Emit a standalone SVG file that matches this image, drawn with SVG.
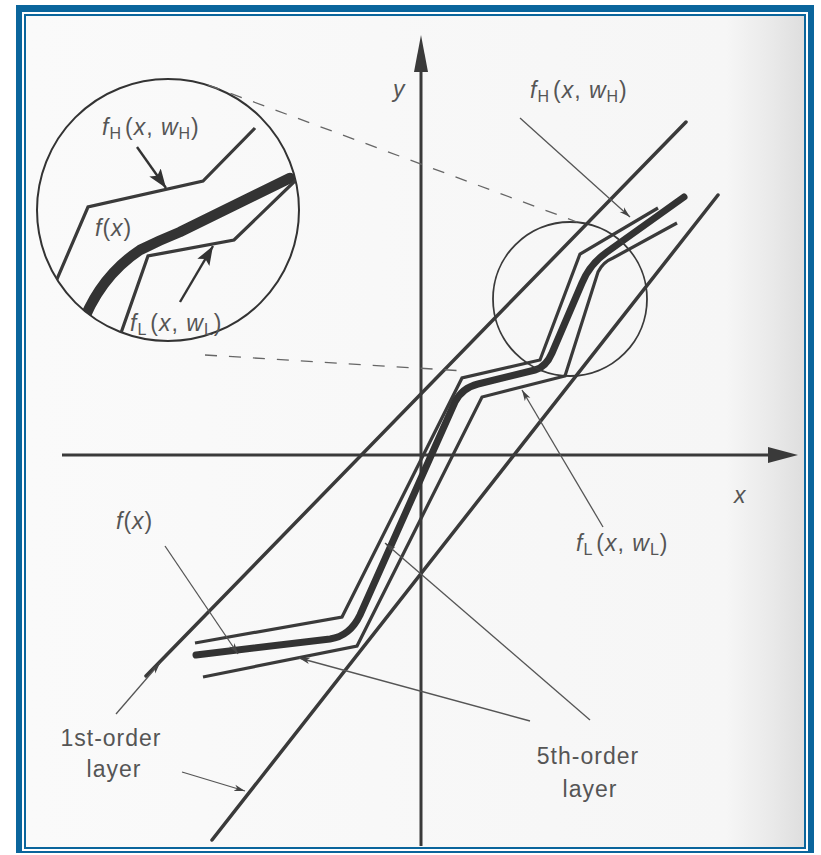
<svg xmlns="http://www.w3.org/2000/svg" width="821" height="855" viewBox="0 0 821 855">
<defs>
  <linearGradient id="scan" x1="0" y1="0" x2="1" y2="0">
    <stop offset="0" stop-color="#fafafa"/>
    <stop offset="0.9" stop-color="#f6f6f6"/>
    <stop offset="0.96" stop-color="#e9e9e9"/>
    <stop offset="1" stop-color="#dedede"/>
  </linearGradient>
  <clipPath id="insetClip"><circle cx="168" cy="210" r="131"/></clipPath>
  <marker id="ptr" markerUnits="userSpaceOnUse" markerWidth="12" markerHeight="8" refX="11" refY="4" orient="auto">
    <path d="M0,0.8 L11,4 L0,7.2 L3,4 z" fill="#444"/>
  </marker>
  <marker id="big" markerUnits="userSpaceOnUse" markerWidth="20" markerHeight="14" refX="19" refY="7" orient="auto">
    <path d="M0,0 L19,7 L0,14 L4,7 z" fill="#333"/>
  </marker>
</defs>
<style>
  .lay{fill:none;stroke:#3a3a3a;stroke-width:3.5;stroke-linecap:round}
  .thin{fill:none;stroke:#3a3a3a;stroke-width:3.2;stroke-linejoin:miter;stroke-linecap:butt}
  .thick{fill:none;stroke:#333;stroke-width:7;stroke-linejoin:round;stroke-linecap:round}
  .ptr{fill:none;stroke:#555;stroke-width:1.3;marker-end:url(#ptr)}
  .dash{fill:none;stroke:#666;stroke-width:1.3;stroke-dasharray:12 12}
  .lbl{font-family:"Liberation Sans",Arial,sans-serif;font-size:23px;fill:#555;letter-spacing:1px}
  .it{font-style:italic}
  .sub{font-size:16px}
  .axis{stroke:#3a3a3a;stroke-width:3;fill:none}
  .head{fill:#3a3a3a}
</style>

<!-- frame -->
<g id="frame">
  <rect x="16" y="5" width="798" height="848" fill="#0a659c"/>
  <rect x="22" y="12" width="786" height="839" fill="#ffffff"/>
  <rect x="24" y="14" width="782" height="835" fill="#0a659c"/>
  <rect x="26" y="16" width="778" height="831" fill="url(#scan)"/>
</g>

<!-- axes -->
<g id="axes">
  <line class="axis" x1="421" y1="70" x2="421" y2="846"/>
  <polygon class="head" points="421,35 414,72 428,72"/>
  <line class="axis" x1="62" y1="455" x2="770" y2="455"/>
  <polygon class="head" points="798,455 768,447 768,463"/>
  <text class="lbl it" x="393" y="97">y</text>
  <text class="lbl it" x="734" y="503">x</text>
</g>

<!-- first-order layers -->
<g id="layer1">
  <line class="lay" x1="146" y1="676" x2="686" y2="122"/>
  <line class="lay" x1="212" y1="840" x2="718" y2="195"/>
</g>

<!-- fifth-order curves -->
<g id="fH">
  <path class="thin" d="M195,643 L342,617 L462,378 L540,360 L580,254 L658,208"/>
</g>
<g id="f">
  <path class="thick" d="M196,655 L330,639 Q350,636 360,615 L455,402 Q462,388 478,384 L535,370 Q546,367 552,353 L582,283 Q590,264 607,252 L684,197"/>
</g>
<g id="fL">
  <path class="thin" d="M203,677 L357,646 L482,397 L565,376 L598,272 Q603,262 613,258 L677,223"/>
</g>

<!-- zoom circle -->
<g id="zoomCircle">
  <circle cx="570" cy="299" r="77" fill="none" stroke="#3a3a3a" stroke-width="1.8"/>
</g>

<!-- inset -->
<g id="inset">
  <circle cx="168" cy="210" r="131" fill="none" stroke="#333" stroke-width="2"/>
  <g clip-path="url(#insetClip)">
    <path class="thin" d="M48,300 L88,207 L203,181 L255,128"/>
    <path d="M80,330 Q98,278 140,250 Q160,240 180,232 L290,178" fill="none" stroke="#333" stroke-width="10.5" stroke-linecap="round"/>
    <path class="thin" d="M108,370 L148,256 L234,240 L296,180"/>
  </g>
  <line x1="137" y1="147" x2="166" y2="188" stroke="#333" stroke-width="2.4" marker-end="url(#big)"/>
  <line x1="180" y1="302" x2="213" y2="246" stroke="#333" stroke-width="2.4" marker-end="url(#big)"/>
  <text class="lbl" x="102" y="135"><tspan class="it">f</tspan><tspan class="sub" dy="4">H</tspan><tspan dx="3" dy="-4">(</tspan><tspan class="it">x</tspan>, <tspan class="it">w</tspan><tspan class="sub" dy="4">H</tspan><tspan dy="-4">)</tspan></text>
  <text class="lbl" x="95" y="236"><tspan class="it">f</tspan>(<tspan class="it">x</tspan>)</text>
  <text class="lbl" x="130" y="331"><tspan class="it">f</tspan><tspan class="sub" dy="4">L</tspan><tspan dx="3" dy="-4">(</tspan><tspan class="it">x</tspan>, <tspan class="it">w</tspan><tspan class="sub" dy="4">L</tspan><tspan dy="-4">)</tspan></text>
</g>

<!-- connectors -->
<g id="connectors">
  <line class="dash" x1="208" y1="85" x2="577" y2="222"/>
  <line class="dash" x1="205" y1="355" x2="465" y2="371"/>
  <line class="ptr" x1="520" y1="118" x2="630" y2="217"/>
  <line class="ptr" x1="603" y1="527" x2="522" y2="390"/>
  <line class="ptr" x1="165" y1="546" x2="238" y2="654"/>
  <line class="ptr" x1="530" y1="721" x2="299" y2="658"/>
  <line class="ptr" x1="590" y1="720" x2="385" y2="543"/>
  <line class="ptr" x1="116" y1="714" x2="160" y2="663"/>
  <line class="ptr" x1="182" y1="772" x2="245" y2="791"/>
</g>

<!-- labels -->
<g id="labels">
  <text class="lbl" x="530" y="98"><tspan class="it">f</tspan><tspan class="sub" dy="4">H</tspan><tspan dx="3" dy="-4">(</tspan><tspan class="it">x</tspan>, <tspan class="it">w</tspan><tspan class="sub" dy="4">H</tspan><tspan dy="-4">)</tspan></text>
  <text class="lbl" x="576" y="551"><tspan class="it">f</tspan><tspan class="sub" dy="4">L</tspan><tspan dx="3" dy="-4">(</tspan><tspan class="it">x</tspan>, <tspan class="it">w</tspan><tspan class="sub" dy="4">L</tspan><tspan dy="-4">)</tspan></text>
  <text class="lbl" x="116" y="529"><tspan class="it">f</tspan>(<tspan class="it">x</tspan>)</text>
  <text class="lbl" x="111" y="746" text-anchor="middle">1st-order</text>
  <text class="lbl" x="114" y="777" text-anchor="middle">layer</text>
  <text class="lbl" x="588" y="764" text-anchor="middle">5th-order</text>
  <text class="lbl" x="590" y="797" text-anchor="middle">layer</text>
</g>
</svg>
